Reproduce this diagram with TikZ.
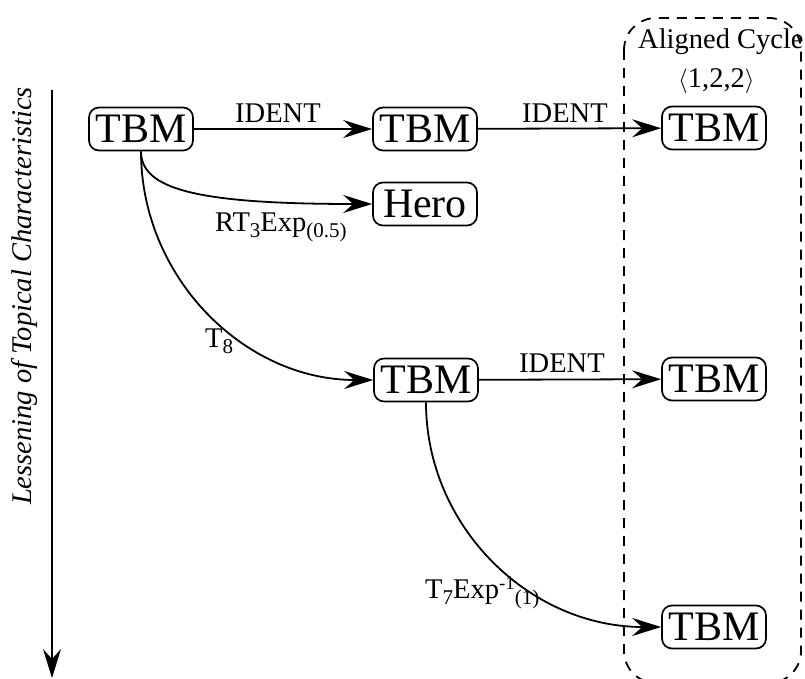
\documentclass[tikz,border=0pt]{standalone}
\usepackage{fontspec}
\setmainfont{Liberation Serif}
\usetikzlibrary{arrows.meta}
\newcommand\mysub[1]{\raisebox{-6pt}{\fontsize{21}{24}\selectfont #1}}
\newcommand\mysup[1]{\raisebox{9pt}{\fontsize{19}{22}\selectfont #1}}
\begin{document}
\begin{tikzpicture}[x=1pt,y=-1pt,
 box/.style={draw, line width=1.7pt, rounded corners=10pt, minimum width=104pt, minimum height=43pt, inner sep=0pt, font=\fontsize{42}{48}\selectfont},
 conn/.style={line width=1.8pt, -{Stealth[length=29pt,width=18pt,inset=10pt]}},
 lbl/.style={font=\fontsize{28.5}{32}\selectfont, inner sep=0pt},
 region/.style={line width=1.8pt, dash pattern=on 10pt off 8pt, rounded corners=32pt},
]
\useasboundingbox (0,0) rectangle (805,679);

% dashed region
\draw[region] (624,18) rectangle (801,683);

% nodes
\node[box] (a) at (141,129) {TBM};
\node[box] (b) at (425,129) {TBM};
\node[box] (h) at (425,204) {Hero};
\node[box] (c) at (714,128) {TBM};
\node[box] (d) at (426,380) {TBM};
\node[box] (e) at (714,379) {TBM};
\node[box] (f) at (714,627) {TBM};

% connectors
\draw[conn] (a) -- (b);
\draw[conn] (b) -- (c);
\draw[conn] (d) -- (e);
\draw[conn] (a.south) .. controls +(0,38) and +(-175,0) .. (h.west);
\draw[conn] (a.south) .. controls +(0,126) and +(-129,0) .. (d.west);
\draw[conn] (d.south) .. controls +(0,124) and +(-132,0) .. (f.west);

% labels
\node[lbl, anchor=base west] (l1) at (235,123) {IDENT};
\node[lbl, anchor=base west] (l2) at (522,123) {IDENT};
\node[lbl, anchor=base west] (l3) at (519,372) {IDENT};
\node[lbl, anchor=base west] (l4) at (215,231) {RT\mysub{3}Exp\mysub{(0.5)}};
\node[lbl, anchor=base west] (l5) at (205,347) {T\mysub{8}};
\node[lbl, anchor=base west] (l6) at (425,598) {T\mysub{7}Exp\mysup{-1}\mysub{(1)}};
\node[lbl, anchor=base west] (t1) at (638,49) {Aligned Cycle};
\node[lbl, anchor=base west] (t2) at (678,88) {$\langle$1,2,2$\rangle$};

% side arrow
\coordinate (s1) at (52,90);
\coordinate (s2) at (52,678);
\draw[conn] (s1) -- (s2);
\node[lbl, rotate=90, anchor=base] (side) at (31,296) {\itshape Lessening of Topical Characteristics};
\end{tikzpicture}
\end{document}
